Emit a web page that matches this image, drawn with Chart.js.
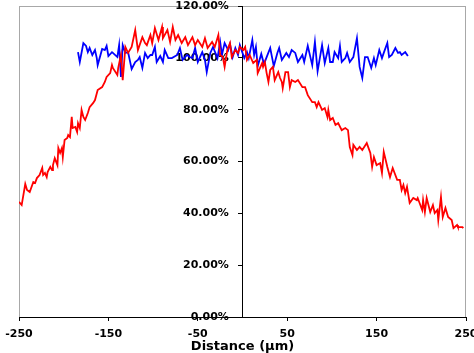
<!DOCTYPE html>
<html>
<head>
<meta charset="utf-8">
<script src="https://cdn.jsdelivr.net/npm/chart.js@4"></script>
<style>
  html, body { margin: 0; padding: 0; background: #fff; overflow: hidden; }
  #wrap { width: 474px; height: 353px; }
</style>
</head>
<body>
<div id="wrap"><canvas id="profileChart"></canvas></div>
<script>
// distance (µm) and relative intensity (%)
const redX = [
  -250, -247, -243, -241, -238, -234, -232, -230, -227, -224,
  -223, -221, -219, -218, -215, -213, -212, -210, -207, -206,
  -204, -202, -201, -199, -196, -195, -193, -191, -190, -187,
  -185, -184, -182, -180, -178, -176, -173, -171, -167, -165,
  -162, -157, -154, -152, -148, -146, -145, -140, -139, -136,
  -134, -131, -128, -124, -120, -117, -112, -109, -107, -103,
  -101, -98, -94, -90, -89, -84, -81, -78, -75, -72,
  -68, -64, -61, -56, -53, -50, -45, -42, -39, -34,
  -31, -27, -25, -22, -20, -17, -14, -12, -8, -5,
  -3, 1, 3, 5, 8, 12, 16, 17, 22, 23,
  25, 27, 29, 31, 34, 36, 40, 42, 44, 45,
  48, 51, 53, 55, 59, 62, 67, 70, 73, 78,
  81, 83, 85, 89, 92, 95, 96, 98, 101, 104,
  107, 111, 115, 118, 120, 123, 124, 128, 131, 134,
  139, 143, 145, 147, 150, 154, 156, 158, 162, 165,
  168, 173, 176, 178, 180, 182, 184, 187, 191, 195,
  196, 201, 202, 204, 206, 210, 213, 215, 218, 219,
  222, 224, 227, 230, 234, 236, 240, 241, 246, 247
];
const redY = [
  44.4, 43.2, 51.3, 49.0, 48.2, 52.1, 51.7, 53.6, 54.8, 57.5,
  54.8, 55.6, 54.0, 55.9, 57.9, 56.7, 58.6, 61.3, 58.6, 65.2,
  63.3, 65.2, 61.7, 68.3, 69.1, 70.2, 69.4, 77.2, 72.9, 73.3,
  71.4, 74.8, 72.9, 79.9, 77.2, 76.0, 78.7, 81.0, 82.6, 83.7,
  87.6, 88.7, 90.7, 92.6, 94.1, 97.2, 96.1, 93.4, 96.1, 101.1,
  91.4, 104.2, 101.9, 104.2, 110.7, 103.0, 108.0, 105.7, 104.9, 108.8,
  105.7, 111.5, 106.9, 111.9, 107.6, 110.7, 106.1, 111.9, 106.9, 108.8,
  105.7, 108.0, 104.9, 108.0, 104.9, 106.9, 104.2, 107.6, 103.8, 106.1,
  104.2, 108.8, 101.1, 100.3, 96.5, 103.0, 105.7, 100.3, 103.0, 101.9,
  104.2, 103.0, 104.2, 99.2, 101.1, 98.0, 99.2, 94.1, 98.0, 96.5,
  98.4, 94.1, 90.7, 95.3, 96.5, 91.4, 94.5, 92.2, 90.7, 88.3,
  94.5, 94.5, 88.7, 91.4, 90.7, 91.4, 88.7, 88.7, 85.6, 82.9,
  82.9, 81.0, 82.9, 79.9, 80.6, 77.2, 79.9, 76.0, 76.8, 74.1,
  74.8, 72.1, 72.9, 72.1, 65.6, 62.5, 66.4, 64.4, 65.6, 64.4,
  67.1, 63.3, 57.9, 61.7, 58.6, 59.4, 55.6, 63.7, 57.9, 54.0,
  57.5, 52.9, 52.9, 49.0, 50.9, 47.8, 50.2, 44.0, 45.9, 45.1,
  45.9, 41.3, 45.1, 40.5, 45.9, 40.5, 43.2, 40.1, 41.3, 37.4,
  46.3, 38.6, 42.1, 38.6, 37.4, 34.3, 35.5, 34.7, 34.7, 34.3
];
const blueX = [
  -184, -182, -178, -175, -173, -171, -168, -165, -163, -162,
  -157, -154, -152, -150, -146, -145, -140, -138, -136, -134,
  -131, -128, -124, -120, -117, -115, -112, -109, -106, -103,
  -101, -98, -96, -92, -89, -87, -83, -79, -73, -70,
  -67, -62, -59, -56, -53, -50, -45, -42, -40, -36,
  -33, -28, -25, -23, -20, -16, -14, -11, -8, -5,
  -3, 2, 5, 7, 11, 13, 15, 17, 21, 24,
  27, 31, 33, 35, 39, 41, 44, 49, 52, 55,
  59, 62, 67, 69, 73, 78, 81, 84, 89, 92,
  96, 98, 101, 103, 107, 109, 111, 115, 117, 120,
  124, 128, 131, 134, 137, 140, 144, 147, 149, 153,
  156, 158, 162, 164, 167, 171, 174, 176, 178, 182,
  185
];
const blueY = [
  102.2, 98.4, 105.7, 104.6, 102.2, 103.8, 101.1, 103.0, 99.9, 97.2,
  103.4, 103.0, 104.6, 100.7, 102.2, 101.9, 100.3, 104.9, 92.6, 104.9,
  101.9, 102.2, 95.7, 98.4, 99.2, 100.3, 96.1, 101.9, 99.9, 101.1,
  101.1, 104.2, 98.4, 100.7, 98.4, 103.0, 99.9, 99.9, 101.1, 103.8,
  99.2, 101.1, 100.3, 99.9, 103.8, 98.4, 102.2, 99.2, 94.5, 101.9,
  104.2, 99.9, 106.1, 101.1, 105.7, 103.0, 105.3, 100.3, 103.8, 101.1,
  104.9, 99.9, 102.2, 99.9, 106.9, 101.1, 104.2, 96.8, 101.5, 97.6,
  100.3, 103.8, 100.3, 96.8, 101.9, 103.8, 99.2, 101.9, 100.3, 103.0,
  101.9, 98.4, 101.1, 98.4, 104.6, 97.2, 106.1, 94.9, 104.9, 98.0,
  103.8, 98.4, 98.4, 102.2, 99.9, 104.6, 98.4, 99.9, 101.9, 98.4,
  100.3, 107.6, 96.5, 92.2, 100.3, 100.3, 96.1, 99.9, 97.2, 103.0,
  99.9, 101.9, 105.7, 100.3, 101.1, 103.8, 101.9, 102.2, 101.1, 102.2,
  100.7
];
const xTickValues = [-250, -150, -50, 50, 150, 250];
const yMax = 120;
const yStep = 20;

const tickFont = { family: 'DejaVu Sans', weight: 'bold', size: 11 };

// light grey box round the plot area, like the original sheet chart
const plotFrame = {
  id: 'plotFrame',
  beforeDraw(chart) {
    const { ctx, chartArea } = chart;
    ctx.save();
    ctx.strokeStyle = '#a8a8a8';
    ctx.lineWidth = 1;
    ctx.strokeRect(chartArea.left + 0.5, chartArea.top + 0.5,
      chartArea.right - chartArea.left - 1, chartArea.bottom - chartArea.top);
    ctx.restore();
  }
};

function toPoints(xs, ys) {
  return xs.map((x, i) => ({ x: x, y: ys[i] }));
}

const ctx = document.getElementById('profileChart').getContext('2d');

const profileChart = new Chart(ctx, {
  type: 'line',
  data: {
    datasets: [
      {
        label: 'red',
        data: toPoints(redX, redY),
        borderColor: '#ff0000',
        borderWidth: 1.8,
        pointRadius: 0,
        tension: 0,
      },
      {
        label: 'blue',
        data: toPoints(blueX, blueY),
        borderColor: '#0000ff',
        borderWidth: 1.8,
        pointRadius: 0,
        tension: 0,
      },
    ],
  },
  options: {
    responsive: true,
    maintainAspectRatio: false,
    animation: false,
    layout: { padding: { left: 19, right: 8, top: 6, bottom: 0 } },
    plugins: {
      legend: { display: false },
      tooltip: { enabled: false },
    },
    scales: {
      x: {
        type: 'linear',
        position: 'bottom',
        min: xTickValues[0],
        max: xTickValues[xTickValues.length - 1],
        afterBuildTicks: (scale) => {
          scale.ticks = xTickValues.map((v) => ({ value: v }));
        },
        afterFit: (scale) => {
          scale.height = 36;
          scale.paddingLeft = 0;
          scale.paddingRight = 0;
        },
        ticks: {
          font: tickFont,
          color: '#000',
          padding: 7,
          maxRotation: 0,
          autoSkip: false,
        },
        grid: { drawOnChartArea: false, drawTicks: true, tickLength: 4, color: '#000' },
        border: { color: '#000', width: 1 },
        title: {
          display: true,
          text: 'Distance (µm)',
          color: '#000',
          font: { family: 'DejaVu Sans', weight: 'bold', size: 13, lineHeight: 1 },
          padding: { top: 0, bottom: 0 },
        },
      },
      y: {
        type: 'linear',
        position: { x: 0 },
        min: 0,
        max: yMax,
        afterFit: (scale) => {
          scale.paddingTop = 0;
          scale.paddingBottom = 0;
        },
        ticks: {
          stepSize: yStep,
          font: tickFont,
          color: '#000',
          // labels of an axis placed at x = 0 ignore ticks.padding, so the
          // gap before the axis line is kept with trailing spaces
          callback: (v) => v.toFixed(2) + '%   \u2009',
        },
        grid: { drawOnChartArea: false, drawTicks: true, tickLength: 4, color: '#000' },
        border: { color: '#000', width: 1 },
      },
    },
  },
  plugins: [plotFrame],
});
</script>
</body>
</html>
